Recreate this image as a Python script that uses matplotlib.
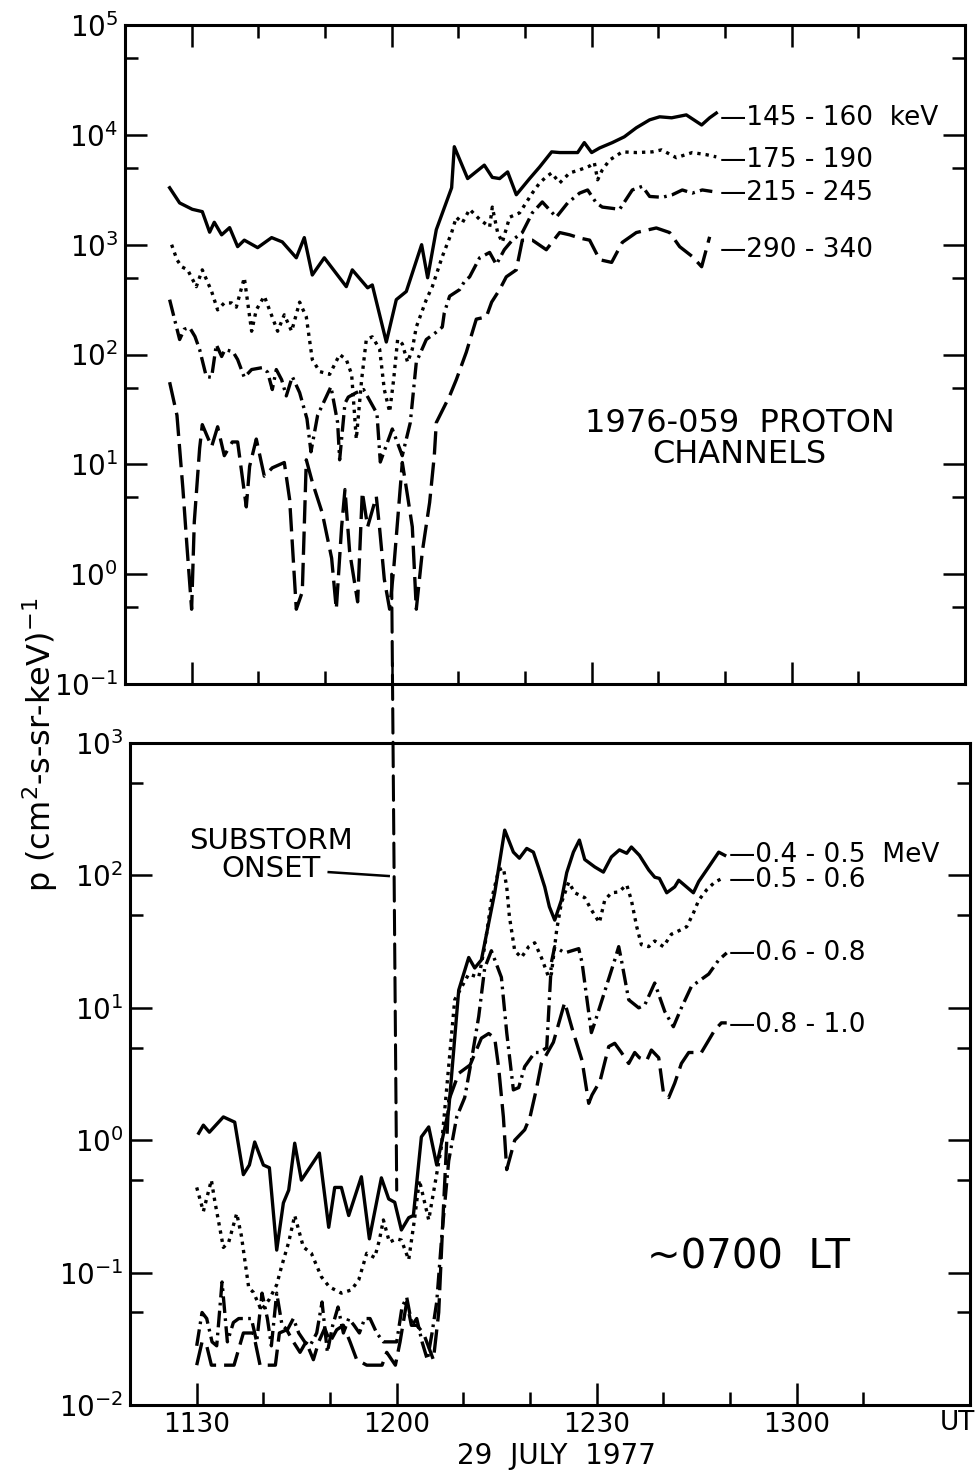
import matplotlib
matplotlib.use("Agg")
import matplotlib.pyplot as plt
from matplotlib.ticker import LogLocator, NullFormatter, FixedLocator
from matplotlib.patches import ConnectionPatch

plt.rcParams['font.family'] = ['DejaVu Sans']
plt.rcParams['mathtext.default'] = 'regular'

# time in minutes after 1100 UT, 29 July 1977
# ---------------- top panel: 1976-059 proton channels ----------------
t_145 = [26.7, 28.2, 30.1, 31.6, 32.7, 33.4, 34.5, 35.7, 36.9, 37.9, 39.9, 42.0, 43.6, 45.7, 46.9,
         48.1, 49.9, 53.2, 54.1, 56.4, 57.1, 59.2, 60.7, 62.2, 64.5, 65.4, 66.7, 69.0, 69.4, 71.4,
         73.9, 75.1, 76.2, 77.4, 78.7, 80.7, 82.2, 84.0, 85.2, 87.9, 88.9, 90.0, 91.2, 93.1, 94.9,
         96.7, 98.7, 100.2, 102.0, 104.2, 106.5, 107.7, 108.7]
p_145 = [3300, 2400, 2100, 2000, 1300, 1600, 1230, 1430, 960, 1100, 940, 1160, 1060, 760, 1160,
         530, 760, 415, 590, 405, 430, 130, 316, 375, 1000, 500, 1370, 3300, 7800, 4000,
         5300, 4100, 4000, 4600, 2850, 4000, 5100, 7000, 6900, 6900, 8500, 6900, 7600, 8500, 9600,
         11600, 13700, 14600, 14300, 15200, 12300, 14300, 15800]

t_175 = [27.0, 27.8, 28.5, 29.4, 30.7, 31.6, 33.0, 33.9, 34.9, 36.0, 36.7, 37.9, 39.0, 39.7, 40.9,
         42.9, 43.9, 45.0, 46.2, 47.2, 48.1, 49.2, 50.7, 52.2, 53.2, 54.0, 54.7, 55.5, 56.2, 57.1,
         58.2, 58.9, 59.7, 60.3, 60.9, 61.6, 62.4, 63.1, 63.7, 65.2, 66.1, 67.6, 69.0, 69.7, 70.6,
         71.7, 73.2, 74.7, 75.1, 75.9, 76.6, 77.7, 79.2, 81.1, 82.2, 83.2, 84.0, 85.2, 86.7, 88.2,
         89.7, 90.4, 90.9, 91.6, 92.7, 94.6, 96.7, 99.1, 100.5, 102.7, 105.1, 107.2, 108.7]
p_175 = [1000, 730, 630, 590, 415, 590, 375, 255, 295, 295, 270, 500, 163, 255, 340,
         163, 230, 163, 300, 220, 90, 70, 66, 100, 90, 66, 17, 59, 137, 145,
         112, 48, 30, 59, 137, 125, 85, 112, 178, 316, 415, 780, 1290, 1780, 1580,
         2100, 1700, 1450, 2200, 1290, 1050, 1780, 1950, 2950, 3650, 4150, 4500, 3650, 4500, 4800,
         5200, 5600, 3900, 4800, 5900, 7000, 6900, 7000, 7300, 6200, 6900, 6600, 6300]

t_215 = [26.7, 28.2, 28.9, 29.7, 30.5, 31.2, 32.2, 33.0, 33.7, 34.5, 35.0, 36.2, 36.9, 37.9, 39.0,
         40.6, 41.4, 42.1, 42.7, 43.5, 44.2, 45.1, 46.2, 47.3, 47.9, 48.9, 50.9, 51.9, 52.2, 53.0,
         53.5, 54.7, 55.8, 57.8, 58.3, 60.1, 61.6, 62.8, 63.7, 65.2, 66.7, 67.6, 67.9, 68.7, 70.2,
         70.9, 71.7, 73.2, 74.7, 75.7, 76.9, 78.1, 79.6, 81.1, 82.6, 84.7, 86.4, 88.2, 89.4, 90.7,
         91.6, 94.2, 96.1, 97.6, 98.7, 100.6, 102.1, 103.6, 105.1, 106.6, 108.1]
p_215 = [316, 137, 170, 176, 146, 111, 63, 62, 123, 96, 111, 106, 90, 62, 73,
         76, 69, 48, 73, 59, 42, 63, 45, 26, 13, 28, 51, 24, 11, 36,
         41, 45, 48, 29, 10.5, 21, 12, 24, 85, 137, 160, 178, 240, 340, 390,
         460, 510, 760, 850, 660, 900, 1100, 1290, 1950, 2450, 1780, 2400, 2950, 3150, 2400,
         2200, 2100, 3150, 3400, 2750, 2700, 2850, 3150, 2950, 3150, 3050]

t_290 = [26.7, 27.8, 28.7, 29.3, 30.0, 30.4, 31.2, 31.6, 33.0, 33.9, 34.9, 36.1, 36.9, 38.2, 38.7,
         39.7, 40.9, 42.1, 43.9, 44.7, 45.7, 46.6, 47.2, 48.1, 49.6, 51.0, 51.7, 52.5, 53.0, 53.7,
         54.9, 55.6, 56.4, 57.7, 58.2, 58.9, 59.7, 60.3, 61.6, 62.4, 63.1, 63.7, 64.6, 65.7, 66.4,
         66.7, 68.7, 69.7, 71.2, 72.7, 74.2, 75.0, 76.2, 77.2, 78.7, 79.6, 81.1, 83.2, 85.2, 86.7,
         88.2, 89.7, 91.2, 93.0, 94.6, 96.7, 99.7, 101.7, 103.2, 105.1, 106.5, 107.7]
p_290 = [56, 28, 5.9, 1.8, 0.48, 3.0, 14, 23, 14.5, 22, 12, 16, 16, 4.1, 9.6,
         17, 7.8, 9.3, 10.4, 4.8, 0.48, 0.69, 11, 6.9, 3.6, 1.4, 0.48, 2.7, 5.9, 1.6,
         0.56, 5.6, 2.7, 5.1, 2.6, 0.9, 0.48, 1.1, 10.4, 5.1, 2.7, 0.48, 1.6, 4.5, 12,
         24, 42, 59, 105, 210, 220, 300, 390, 510, 590, 1100, 1100, 900, 1290, 1230,
         1150, 1100, 730, 690, 1050, 1290, 1420, 1290, 960, 780, 630, 1180]

top_labels = ['\u2014145 - 160  keV', '\u2014175 - 190', '\u2014215 - 245', '\u2014290 - 340']
top_label_y = [14300, 5900, 2960, 900]

# ---------------- bottom panel: higher-energy channels ----------------
t_04 = [30.3, 31.0, 31.9, 34.0, 35.7, 37.0, 37.9, 38.7, 40.0, 40.9, 42.0, 43.0, 43.8, 44.7, 45.7,
        48.4, 49.8, 50.7, 51.7, 52.8, 54.7, 55.9, 57.7, 58.8, 59.7, 60.7, 61.8, 62.5, 63.7, 64.8,
        66.0, 67.8, 69.3, 70.8, 71.7, 72.7, 74.7, 76.2, 77.5, 78.4, 79.5, 80.5, 81.3, 82.2, 82.9,
        83.7, 84.7, 85.5, 86.5, 87.4, 88.2, 89.7, 91.0, 92.2, 93.4, 94.5, 95.2, 96.4, 97.8, 98.7,
        99.4, 100.5, 101.7, 102.3, 104.5, 105.3, 106.8, 108.3, 109.2]
p_04 = [1.13, 1.3, 1.15, 1.5, 1.37, 0.55, 0.65, 0.97, 0.65, 0.62, 0.148, 0.336, 0.42, 0.95, 0.5,
        0.8, 0.22, 0.44, 0.44, 0.27, 0.53, 0.18, 0.52, 0.36, 0.34, 0.21, 0.26, 0.27, 1.06, 1.26,
        0.65, 1.7, 13.6, 24, 20, 23, 74, 220, 150, 135, 160, 150, 114, 82, 58,
        46, 65, 105, 150, 185, 132, 116, 106, 138, 156, 147, 164, 142, 110, 97,
        95, 74, 82, 92, 74, 90, 116, 150, 142]

t_05 = [30.0, 31.0, 32.2, 32.7, 34.0, 34.8, 36.0, 36.7, 37.8, 38.5, 39.7, 40.9, 42.0, 42.7, 43.8,
        44.7, 46.0, 47.2, 48.7, 49.9, 51.7, 53.2, 54.3, 55.5, 56.7, 57.4, 58.0, 58.9, 60.0, 60.7,
        61.8, 62.7, 63.4, 64.8, 66.7, 68.7, 70.8, 72.3, 73.2, 74.2, 75.3, 76.0, 76.5, 76.9, 77.7,
        78.7, 79.8, 80.7, 81.7, 82.8, 83.2, 84.0, 84.7, 85.8, 86.7, 88.2, 89.2, 90.4, 91.2, 92.2,
        93.3, 94.5, 95.2, 96.0, 96.7, 97.8, 98.7, 100.0, 101.2, 102.7, 103.5, 104.5, 105.3, 106.5,
        107.7, 109.0]
p_05 = [0.44, 0.29, 0.50, 0.35, 0.155, 0.17, 0.28, 0.19, 0.077, 0.071, 0.052, 0.063, 0.081, 0.11, 0.17,
        0.27, 0.156, 0.14, 0.093, 0.078, 0.07, 0.074, 0.088, 0.14, 0.13, 0.176, 0.25, 0.17, 0.18, 0.176,
        0.125, 0.26, 0.5, 0.25, 0.89, 11.5, 18, 17, 29, 65, 110, 114, 82, 49, 27,
        24, 29, 31, 24, 17, 18, 39, 62, 89, 74, 68, 55, 44, 65, 74,
        75, 85, 65, 41, 30, 29, 32, 29, 36, 39, 41, 52, 65, 78,
        89, 96]

t_06 = [30.0, 30.8, 31.5, 32.3, 33.0, 33.8, 34.6, 35.5, 36.3, 37.2, 38.2, 39.0, 39.8, 40.6, 41.2,
        42.0, 42.8, 43.6, 44.5, 45.3, 46.2, 47.0, 48.0, 48.8, 49.6, 50.4, 51.2, 52.0, 52.8, 53.6,
        54.4, 55.2, 56.0, 57.0, 58.0, 59.0, 60.0, 60.8, 61.5, 62.3, 63.0, 63.8, 64.6, 65.3, 66.0,
        66.8, 67.8, 69.0, 70.2, 71.2, 72.3, 73.2, 74.2, 75.7, 76.5, 77.5, 78.3, 79.2, 80.7, 81.4,
        82.5, 83.2, 83.7, 85.2, 87.3, 87.8, 89.2, 89.7, 92.7, 93.3, 93.7, 94.8, 96.3, 97.2, 98.7,
        100.2, 101.5, 102.7, 104.2, 106.8, 108.3, 109.5]
p_06 = [0.028, 0.05, 0.045, 0.03, 0.028, 0.085, 0.03, 0.042, 0.045, 0.045, 0.045, 0.03, 0.07, 0.045, 0.028,
        0.07, 0.04, 0.037, 0.045, 0.035, 0.03, 0.028, 0.035, 0.06, 0.025, 0.04, 0.055, 0.035, 0.045, 0.04,
        0.035, 0.045, 0.045, 0.035, 0.03, 0.03, 0.03, 0.055, 0.065, 0.04, 0.045, 0.03, 0.022, 0.035, 0.06,
        0.2, 0.7, 1.5, 2.1, 4.0, 8.6, 20, 27, 17, 6.5, 2.4, 2.5, 3.6, 4.6, 4.6,
        5.0, 22, 29, 26, 28, 22, 6.5, 7.7, 23, 29, 23, 11.5, 10, 10.5, 15.4,
        9.4, 7.2, 10, 14.5, 18, 23, 26]

t_08 = [30.0, 30.8, 31.5, 32.2, 35.6, 37.0, 38.5, 39.5, 41.8, 42.4, 43.5, 44.5, 45.5, 46.4, 47.5,
        48.3, 49.2, 50.0, 51.0, 52.0, 53.0, 54.0, 55.5, 57.8, 58.5, 59.8, 60.5, 61.5, 62.2, 63.0,
        64.0, 65.5, 66.3, 67.0, 67.8, 69.3, 71.0, 72.7, 73.8, 74.7, 75.3, 76.0, 76.5, 77.7, 79.2,
        80.0, 81.0, 81.7, 83.5, 85.2, 86.3, 87.8, 88.8, 89.3, 90.5, 91.8, 92.7, 93.7, 94.8, 95.7,
        96.4, 97.5, 98.2, 99.3, 100.0, 100.8, 101.7, 102.7, 103.8, 105.7, 106.8, 107.7, 108.7, 109.5]
p_08 = [0.02, 0.03, 0.028, 0.02, 0.02, 0.035, 0.035, 0.02, 0.02, 0.035, 0.037, 0.03, 0.025, 0.03, 0.022,
        0.03, 0.038, 0.03, 0.037, 0.04, 0.03, 0.022, 0.02, 0.02, 0.025, 0.02, 0.03, 0.06, 0.04, 0.04,
        0.035, 0.022, 0.05, 0.3, 2.0, 3.2, 3.7, 5.9, 6.4, 5.9, 3.5, 1.5, 0.6, 1.0, 1.2,
        1.5, 2.5, 3.8, 5.5, 11, 7.0, 4.0, 1.9, 2.2, 2.8, 5.1, 5.4, 4.6, 3.8, 4.6,
        4.2, 4.0, 4.8, 4.2, 2.3, 2.1, 2.7, 3.8, 4.6, 4.6, 5.7, 6.8, 7.7, 7.7]

bot_labels = ['\u20140.4 - 0.5  MeV', '\u20140.5 - 0.6', '\u20140.6 - 0.8', '\u20140.8 - 1.0']
bot_label_y = [143, 92, 26, 7.4]

xtick_pos = [30, 60, 90, 120]
xtick_lab = ['1130', '1200', '1230', '1300']
xminor_pos = [40, 50, 70, 80, 100, 110, 130]

# ---------------- styles ----------------
LW = 2.4
solid = '-'
dotted = (0, (1.0, 1.5))
dashdot = (0, (5.0, 1.6, 0.8, 1.6))
longdash = (0, (7.0, 2.4))
FS = 19

fig = plt.figure(figsize=(9.77, 14.72), dpi=100)
ax1 = fig.add_axes([0.1279, 0.5353, 0.8598, 0.4477])
ax2 = fig.add_axes([0.1331, 0.0455, 0.8598, 0.4497])

for ax, ylim in ((ax1, (0.1, 1e5)), (ax2, (0.01, 1e3))):
    ax.set_yscale('log')
    ax.set_xlim(20, 146)
    ax.set_ylim(*ylim)
    ax.yaxis.set_major_locator(LogLocator(base=10, numticks=20))
    ax.yaxis.set_minor_locator(LogLocator(base=10, subs=[5.0], numticks=20))
    ax.yaxis.set_minor_formatter(NullFormatter())
    ax.xaxis.set_major_locator(FixedLocator(xtick_pos))
    ax.xaxis.set_minor_locator(FixedLocator(xminor_pos))
    for s in ax.spines.values():
        s.set_linewidth(2.2)
    ax.tick_params(which='both', direction='in', width=1.8, right=True)
    ax.tick_params(axis='y', labelsize=20)
    ax.tick_params(axis='x', labelsize=19)
    ax.tick_params(which='major', length=16, pad=5)
    ax.tick_params(which='minor', length=9.5)

ax1.tick_params(which='both', top=True, labelbottom=False)
ax2.tick_params(which='both', top=False)
ax2.set_xticklabels(xtick_lab)

# top curves
ax1.plot(t_145, p_145, color='k', lw=LW, ls=solid)
ax1.plot(t_175, p_175, color='k', lw=LW, ls=dotted)
ax1.plot(t_215, p_215, color='k', lw=LW, ls=dashdot)
ax1.plot(t_290, p_290, color='k', lw=LW, ls=longdash)
for lab, yv in zip(top_labels, top_label_y):
    ax1.text(109.2, yv, lab, fontsize=FS, va='center', ha='left')
ax1.text(112.2, 16.9, '1976-059  PROTON\nCHANNELS', fontsize=23, ha='center', va='center',
         multialignment='center', linespacing=1.0)

# bottom curves
ax2.plot(t_04, p_04, color='k', lw=LW, ls=solid)
ax2.plot(t_05, p_05, color='k', lw=LW, ls=dotted)
ax2.plot(t_06, p_06, color='k', lw=LW, ls=dashdot)
ax2.plot(t_08, p_08, color='k', lw=LW, ls=longdash)
for lab, yv in zip(bot_labels, bot_label_y):
    ax2.text(109.9, yv, lab, fontsize=FS, va='center', ha='left')
ax2.text(112.8, 0.129, '~0700  LT', fontsize=29, ha='center', va='center')
ax2.text(41.2, 143, 'SUBSTORM\nONSET', fontsize=21, ha='center', va='center',
         multialignment='center', linespacing=1.0)
ax2.plot([49.8, 58.8], [106, 99], color='k', lw=1.8)

# substorm onset line crossing both panels
con = ConnectionPatch(xyA=(60, 1.0), coordsA=ax1.transData,
                      xyB=(60, 0.42), coordsB=ax2.transData,
                      color='k', lw=2.2, linestyle=(0, (8, 3)))
fig.add_artist(con)

fig.text(0.041, 0.494, 'p (cm$^{2}$-s-sr-keV)$^{-1}$', rotation=90, fontsize=23,
         ha='center', va='center')
fig.text(556 / 977, 1 - 1456 / 1472, '29  JULY  1977', fontsize=20, ha='center', va='center')
fig.text(957 / 977, 1 - 1423 / 1472, 'UT', fontsize=19, ha='center', va='center')

fig.savefig('out.png', dpi=100)
